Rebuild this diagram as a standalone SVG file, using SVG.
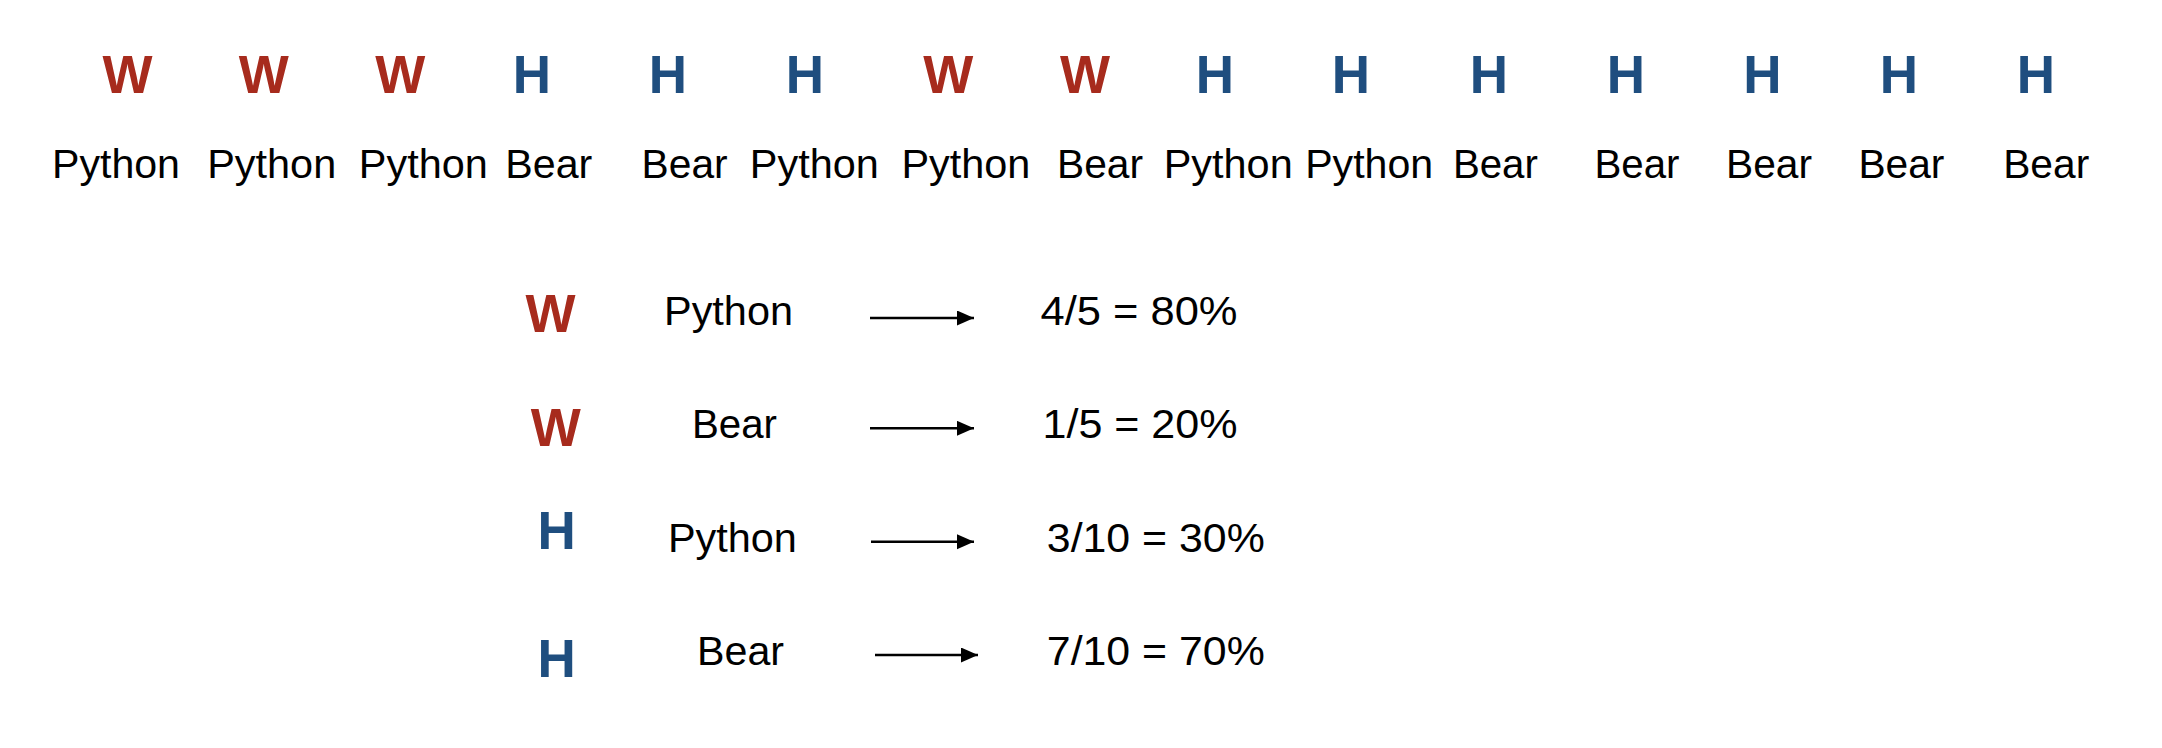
<svg xmlns="http://www.w3.org/2000/svg" width="2162" height="748" viewBox="0 0 2162 748">
<style>
.w{font-family:"Liberation Sans",Arial,sans-serif;font-weight:bold;font-size:53px;fill:#A72B1D;text-anchor:middle}
.h{font-family:"Liberation Sans",Arial,sans-serif;font-weight:bold;font-size:53px;fill:#1F4E7F;text-anchor:middle}
.l{font-family:"Liberation Sans",Arial,sans-serif;font-size:41px;fill:#000;text-anchor:middle}
.a{stroke:#000;stroke-width:2.6;fill:none}
</style>
<defs>
<marker id="ah" markerUnits="userSpaceOnUse" markerWidth="18" markerHeight="16" refX="17" refY="7.5" orient="auto">
<path d="M0,0 L17,7.5 L0,15 Z" fill="#000"/>
</marker>
</defs>
<rect width="2162" height="748" fill="#fff"/>
<g id="sequence">
<g id="s1"><text class="w" x="127.5" y="93">W</text><text class="l" x="116" y="178" textLength="128" lengthAdjust="spacingAndGlyphs">Python</text></g>
<g id="s2"><text class="w" x="263.7" y="93">W</text><text class="l" x="271.7" y="178" textLength="129" lengthAdjust="spacingAndGlyphs">Python</text></g>
<g id="s3"><text class="w" x="400.2" y="93">W</text><text class="l" x="423.3" y="178" textLength="129" lengthAdjust="spacingAndGlyphs">Python</text></g>
<g id="s4"><text class="h" x="531.9" y="93">H</text><text class="l" x="548.8" y="178" textLength="87" lengthAdjust="spacingAndGlyphs">Bear</text></g>
<g id="s5"><text class="h" x="668" y="93">H</text><text class="l" x="684.6" y="178" textLength="86" lengthAdjust="spacingAndGlyphs">Bear</text></g>
<g id="s6"><text class="h" x="805" y="93">H</text><text class="l" x="814.3" y="178" textLength="129" lengthAdjust="spacingAndGlyphs">Python</text></g>
<g id="s7"><text class="w" x="948.3" y="93">W</text><text class="l" x="965.9" y="178" textLength="129" lengthAdjust="spacingAndGlyphs">Python</text></g>
<g id="s8"><text class="w" x="1085" y="93">W</text><text class="l" x="1100" y="178" textLength="86" lengthAdjust="spacingAndGlyphs">Bear</text></g>
<g id="s9"><text class="h" x="1215" y="93">H</text><text class="l" x="1228.2" y="178" textLength="129" lengthAdjust="spacingAndGlyphs">Python</text></g>
<g id="s10"><text class="h" x="1351" y="93">H</text><text class="l" x="1369.2" y="178" textLength="128" lengthAdjust="spacingAndGlyphs">Python</text></g>
<g id="s11"><text class="h" x="1488.8" y="93">H</text><text class="l" x="1495.4" y="178" textLength="85" lengthAdjust="spacingAndGlyphs">Bear</text></g>
<g id="s12"><text class="h" x="1626" y="93">H</text><text class="l" x="1637" y="178" textLength="85" lengthAdjust="spacingAndGlyphs">Bear</text></g>
<g id="s13"><text class="h" x="1762.5" y="93">H</text><text class="l" x="1769" y="178" textLength="86" lengthAdjust="spacingAndGlyphs">Bear</text></g>
<g id="s14"><text class="h" x="1899" y="93">H</text><text class="l" x="1901.4" y="178" textLength="86" lengthAdjust="spacingAndGlyphs">Bear</text></g>
<g id="s15"><text class="h" x="2036" y="93">H</text><text class="l" x="2046.2" y="178" textLength="86" lengthAdjust="spacingAndGlyphs">Bear</text></g>
</g>
<g id="row1">
<text class="w" x="550.6" y="331.7">W</text>
<text class="l" x="728.5" y="325" textLength="129" lengthAdjust="spacingAndGlyphs">Python</text>
<text class="l" x="1139" y="325" textLength="197" lengthAdjust="spacingAndGlyphs">4/5 = 80%</text>
</g>
<g id="row2">
<text class="w" x="555.8" y="445.7">W</text>
<text class="l" x="734.5" y="438" textLength="85" lengthAdjust="spacingAndGlyphs">Bear</text>
<text class="l" x="1140" y="438" textLength="195" lengthAdjust="spacingAndGlyphs">1/5 = 20%</text>
</g>
<g id="row3">
<text class="h" x="556.6" y="549.3">H</text>
<text class="l" x="732.4" y="551.7" textLength="129" lengthAdjust="spacingAndGlyphs">Python</text>
<text class="l" x="1155.8" y="551.7" textLength="218" lengthAdjust="spacingAndGlyphs">3/10 = 30%</text>
</g>
<g id="row4">
<text class="h" x="556.6" y="677.3">H</text>
<text class="l" x="740.5" y="665" textLength="87" lengthAdjust="spacingAndGlyphs">Bear</text>
<text class="l" x="1155.8" y="665" textLength="218" lengthAdjust="spacingAndGlyphs">7/10 = 70%</text>
</g>
<g id="connectors">
<line class="a" x1="870" y1="318" x2="974" y2="318" marker-end="url(#ah)"/>
<line class="a" x1="870" y1="428.3" x2="974" y2="428.3" marker-end="url(#ah)"/>
<line class="a" x1="871" y1="541.7" x2="974" y2="541.7" marker-end="url(#ah)"/>
<line class="a" x1="875" y1="655" x2="978" y2="655" marker-end="url(#ah)"/>
</g>
</svg>
